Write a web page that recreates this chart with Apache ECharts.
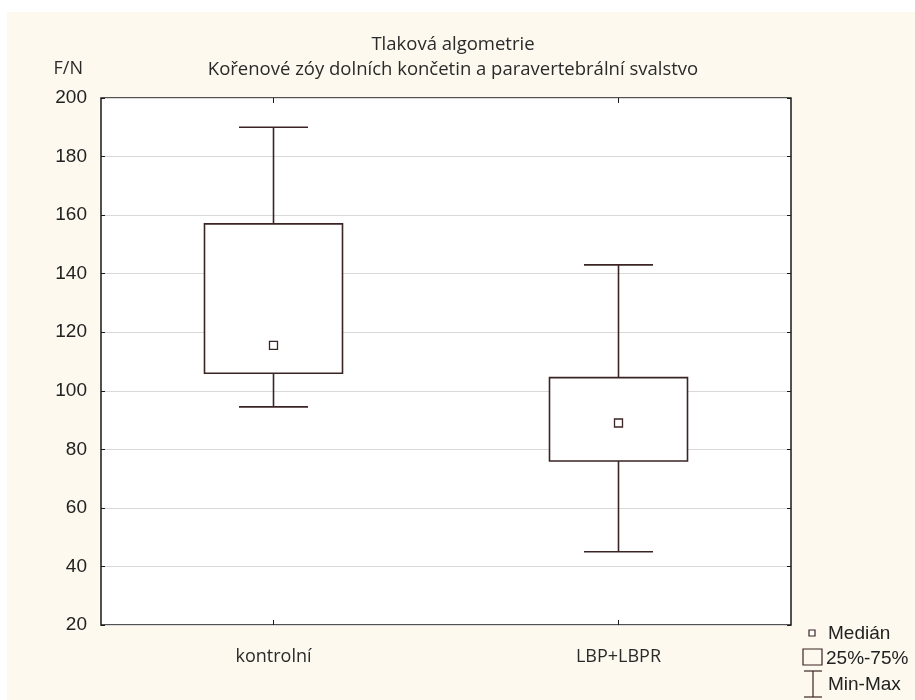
<!DOCTYPE html>
<html>
<head>
<meta charset="utf-8">
<script src="https://cdn.jsdelivr.net/npm/echarts@6/dist/echarts.min.js"></script>
<style>
html,body{margin:0;padding:0;background:#ffffff;}
#c{width:915px;height:700px;}
</style>
</head>
<body>
<div id="c"></div>
<script>
var categories = ['kontrolní', 'LBP+LBPR'];
var minValues = [94.5, 45];
var q1Values = [106, 76];
var medianValues = [115.5, 89];
var q3Values = [157, 104.5];
var maxValues = [190, 143];
var yTicks = [20, 40, 60, 80, 100, 120, 140, 160, 180, 200];

var lineColor = '#3b2424';
var bg = '#fdf9ef';

var boxData = categories.map(function (c, i) {
  return [i, minValues[i], q1Values[i], medianValues[i], q3Values[i], maxValues[i]];
});
var medianData = categories.map(function (c, i) { return [i, medianValues[i]]; });

var chart = echarts.init(document.getElementById('c'), null, {renderer: 'canvas'});

function renderBox(params, api) {
  var idx = api.value(0);
  var band = api.size([1, 0])[0];
  var half = band * 0.2;
  var cap = band * 0.1;
  var pMin = api.coord([idx, api.value(1)]);
  var pQ1 = api.coord([idx, api.value(2)]);
  var pQ3 = api.coord([idx, api.value(4)]);
  var pMax = api.coord([idx, api.value(5)]);
  var x = pQ1[0];
  var st = {stroke: lineColor, lineWidth: 1.6, fill: null};
  return {
    type: 'group',
    children: [
      {type: 'line', shape: {x1: x, y1: pMax[1], x2: x, y2: pQ3[1]}, style: st},
      {type: 'line', shape: {x1: x, y1: pQ1[1], x2: x, y2: pMin[1]}, style: st},
      {type: 'line', shape: {x1: x - cap, y1: pMax[1], x2: x + cap, y2: pMax[1]}, style: st},
      {type: 'line', shape: {x1: x - cap, y1: pMin[1], x2: x + cap, y2: pMin[1]}, style: st},
      {type: 'rect', shape: {x: x - half, y: pQ3[1], width: half * 2, height: pQ1[1] - pQ3[1]},
        style: {stroke: lineColor, lineWidth: 1.6, fill: '#ffffff'}}
    ]
  };
}

var legFont = '19px "Liberation Sans", Arial, sans-serif';
var option = {
  animation: false,
  backgroundColor: '#ffffff',
  textStyle: {fontFamily: '"Open Sans", "Noto Sans", sans-serif'},
  graphic: [
    {type: 'rect', z: -10, shape: {x: 7, y: 12, width: 908, height: 688}, style: {fill: bg}},
    // legend
    {type: 'rect', shape: {x: 809, y: 630, width: 6, height: 6}, style: {fill: '#fff', stroke: lineColor, lineWidth: 1.2}},
    {type: 'text', x: 828, y: 634, style: {text: 'Medián', fill: '#222', font: legFont, verticalAlign: 'middle'}},
    {type: 'rect', shape: {x: 803, y: 649, width: 19, height: 16}, style: {fill: bg, stroke: lineColor, lineWidth: 1.2}},
    {type: 'text', x: 826, y: 659, style: {text: '25%-75%', fill: '#222', font: legFont, verticalAlign: 'middle'}},
    {type: 'line', shape: {x1: 804, y1: 671, x2: 822, y2: 671}, style: {stroke: lineColor, lineWidth: 1.2}},
    {type: 'line', shape: {x1: 813, y1: 671, x2: 813, y2: 697}, style: {stroke: lineColor, lineWidth: 1.2}},
    {type: 'line', shape: {x1: 804, y1: 697, x2: 822, y2: 697}, style: {stroke: lineColor, lineWidth: 1.2}},
    {type: 'text', x: 828, y: 685, style: {text: 'Min-Max', fill: '#222', font: legFont, verticalAlign: 'middle'}}
  ],
  title: {
    text: 'Tlaková algometrie\nKořenové zóy dolních končetin a paravertebrální svalstvo',
    left: 448, top: 27, textAlign: 'center',
    textStyle: {fontSize: 18.5, fontWeight: 'normal', color: '#2a2a2a', lineHeight: 25, fontFamily: '"Open Sans", sans-serif'}
  },
  grid: {
    left: 101, top: 98, right: 124, bottom: 75,
    show: true, backgroundColor: '#ffffff', borderColor: '#1a1a1a', borderWidth: 1.5
  },
  xAxis: [
    {
      type: 'category', data: categories, position: 'bottom',
      axisLine: {show: false},
      axisTick: {show: true, inside: true, alignWithLabel: true, length: 5, lineStyle: {color: '#1a1a1a'}},
      axisLabel: {margin: 23, fontSize: 18, color: '#2a2a2a', fontFamily: '"Open Sans", sans-serif'},
      splitLine: {show: false}
    },
    {
      type: 'category', data: categories, position: 'top',
      axisLine: {show: false},
      axisTick: {show: true, inside: true, alignWithLabel: true, length: 5, lineStyle: {color: '#1a1a1a'}},
      axisLabel: {show: false}
    }
  ],
  yAxis: [
    {
      type: 'value', min: 20, max: 200, interval: 20, position: 'left',
      name: 'F/N', nameLocation: 'end', nameGap: 20,
      nameTextStyle: {align: 'right', padding: [0, 18, 0, 0], fontSize: 18, color: '#2a2a2a', fontFamily: '"Open Sans", sans-serif'},
      axisLine: {show: false},
      axisTick: {show: true, inside: true, length: 4, lineStyle: {color: '#1a1a1a'}},
      axisLabel: {margin: 14, fontSize: 19, color: '#222', fontFamily: '"Liberation Sans", Arial, sans-serif',
        formatter: function (v) { return yTicks.indexOf(v) >= 0 ? String(v) : ''; }},
      splitLine: {show: true, lineStyle: {color: '#d9d9d9', width: 1}}
    },
    {
      type: 'value', min: 20, max: 200, interval: 20, position: 'right',
      axisLine: {show: false},
      axisTick: {show: true, inside: true, length: 4, lineStyle: {color: '#1a1a1a'}},
      axisLabel: {show: false},
      splitLine: {show: false}
    }
  ],
  series: [
    {
      type: 'custom', xAxisIndex: 0, yAxisIndex: 0,
      renderItem: renderBox,
      encode: {x: 0, y: [1, 2, 3, 4, 5]},
      data: boxData, z: 5
    },
    {
      type: 'scatter', xAxisIndex: 0, yAxisIndex: 0,
      symbol: 'rect', symbolSize: 8,
      itemStyle: {color: '#ffffff', borderColor: lineColor, borderWidth: 1.3, opacity: 1},
      data: medianData, z: 6
    }
  ]
};
chart.setOption(option);
</script>
</body>
</html>
